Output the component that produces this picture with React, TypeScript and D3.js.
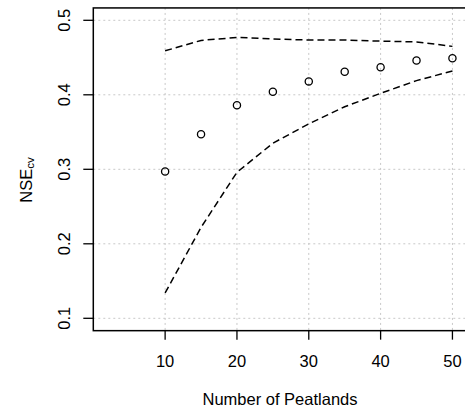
import React from 'react';
import * as d3 from 'd3';

// number of peatlands used in the cross validation
const peatlands = [10, 15, 20, 25, 30, 35, 40, 45, 50];
// mean NSE_cv (circles)
const nseMean = [0.297, 0.347, 0.386, 0.404, 0.418, 0.431, 0.437, 0.446, 0.449];
// upper and lower bands (dashed)
const nseUpper = [0.459, 0.473, 0.477, 0.475, 0.4735, 0.4735, 0.472, 0.471, 0.465];
const nseLower = [0.134, 0.222, 0.296, 0.335, 0.361, 0.384, 0.402, 0.419, 0.432];

const xTicks = [10, 20, 30, 40, 50];
const yTicks = [0.1, 0.2, 0.3, 0.4, 0.5];

const W = 465;
const H = 411;
const font = "'Liberation Sans', Arial, sans-serif";

export default function App() {
  const x = d3.scaleLinear().domain([0, 52]).range([93.3, 466.8]);
  const y = d3.scaleLinear().domain([0.1, 0.5]).range([318.3, 20.3]);
  const top = y(0.5166);
  const bottom = y(0.0834);
  const left = x(0);
  const right = x(52);

  const line = d3.line<number>()
    .x((_, i) => x(peatlands[i]))
    .y(d => y(d));

  return (
    <svg width={W} height={H} style={{ position: 'absolute', left: 0, top: 0, background: '#fff' }}
      fontFamily={font}>
      {/* grid */}
      {xTicks.map(t => (
        <line key={'gx' + t} x1={x(t)} x2={x(t)} y1={top} y2={bottom}
          stroke="#c8c8c8" strokeWidth={1} strokeDasharray="2,3" />
      ))}
      {yTicks.map(t => (
        <line key={'gy' + t} x1={left} x2={right} y1={y(t)} y2={y(t)}
          stroke="#c8c8c8" strokeWidth={1} strokeDasharray="2,3" />
      ))}

      {/* bands */}
      <path d={line(nseUpper) || ''} fill="none" stroke="#000" strokeWidth={1.5} strokeDasharray="7,4" />
      <path d={line(nseLower) || ''} fill="none" stroke="#000" strokeWidth={1.5} strokeDasharray="7,4" />

      {/* mean */}
      {nseMean.map((v, i) => (
        <circle key={i} cx={x(peatlands[i])} cy={y(v)} r={3.6} fill="none" stroke="#000" strokeWidth={1.3} />
      ))}

      {/* box */}
      <rect x={left} y={top} width={right - left} height={bottom - top} fill="none" stroke="#000" strokeWidth={1.5} />

      {/* x axis */}
      {xTicks.map(t => (
        <g key={'xt' + t}>
          <line x1={x(t)} x2={x(t)} y1={bottom} y2={bottom + 9} stroke="#000" strokeWidth={1.3} />
          <text x={x(t)} y={367} textAnchor="middle" fontSize={16.5}>{t}</text>
        </g>
      ))}
      <text x={280} y={405} textAnchor="middle" fontSize={16.5}>Number of Peatlands</text>

      {/* y axis */}
      {yTicks.map(t => (
        <g key={'yt' + t}>
          <line x1={left - 10} x2={left} y1={y(t)} y2={y(t)} stroke="#000" strokeWidth={1.3} />
          <text transform={`translate(69.5,${y(t)}) rotate(-90)`} textAnchor="middle" fontSize={16.5}>
            {d3.format('.1f')(t)}
          </text>
        </g>
      ))}
      <text transform="translate(32,180) rotate(-90)" textAnchor="middle" fontSize={16.5}>
        NSE<tspan fontSize={11.5} dy={2}>cv</tspan>
      </text>
    </svg>
  );
}
